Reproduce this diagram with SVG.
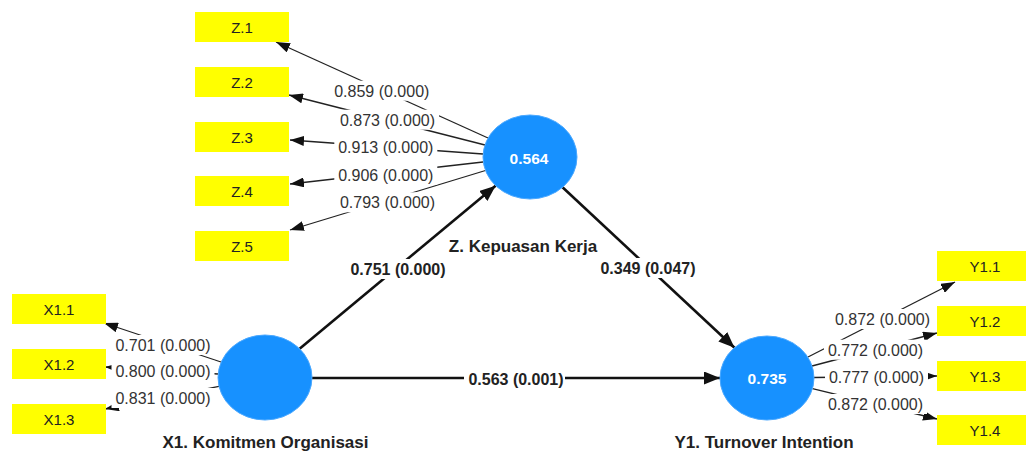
<svg xmlns="http://www.w3.org/2000/svg" width="1026" height="452" viewBox="0 0 1026 452">
<style>
.ind{fill:#ffff00}
.itxt{font-family:"Liberation Sans",Arial,sans-serif;font-size:15px;fill:#222;text-anchor:middle}
.lv{fill:#1791ff;stroke:#4aa8ff;stroke-width:1}
.lvtxt{font-family:"Liberation Sans",Arial,sans-serif;font-size:15.5px;font-weight:bold;fill:#fff;text-anchor:middle}
.name{font-family:"Liberation Sans",Arial,sans-serif;font-size:17px;font-weight:bold;fill:#222;text-anchor:middle}
.ld{stroke:#222;stroke-width:1.3;fill:none}
.pth{stroke:#111;stroke-width:2.6;fill:none}
.lbl{font-family:"Liberation Sans",Arial,sans-serif;font-size:16px;fill:#333;text-anchor:middle}
.blbl{font-family:"Liberation Sans",Arial,sans-serif;font-size:16px;font-weight:bold;fill:#222;text-anchor:middle}
.bg{fill:#fff}
</style>
<defs>
<marker id="a" markerUnits="userSpaceOnUse" viewBox="0 0 14 10" markerWidth="14" markerHeight="10" refX="14" refY="5" orient="auto"><path d="M0,0 L14,5 L0,10 z" fill="#111"/></marker>
<marker id="b" markerUnits="userSpaceOnUse" viewBox="0 0 16 13" markerWidth="16" markerHeight="13" refX="16" refY="6.5" orient="auto"><path d="M0,0 L16,6.5 L0,13 z" fill="#111"/></marker>
</defs>
<g id="connectors">
<line class="ld" x1="488" y1="138" x2="276" y2="42" marker-end="url(#a)"/>
<line class="ld" x1="485" y1="145" x2="289" y2="95" marker-end="url(#a)"/>
<line class="ld" x1="483" y1="154" x2="290" y2="140" marker-end="url(#a)"/>
<line class="ld" x1="483" y1="162" x2="290" y2="184" marker-end="url(#a)"/>
<line class="ld" x1="485.5" y1="170.5" x2="290" y2="230" marker-end="url(#a)"/>
<line class="ld" x1="221" y1="362" x2="104" y2="323" marker-end="url(#a)"/>
<line class="ld" x1="218" y1="374" x2="105" y2="367" marker-end="url(#a)"/>
<line class="ld" x1="219" y1="386.4" x2="105" y2="409" marker-end="url(#a)"/>
<line class="ld" x1="808" y1="357" x2="955" y2="282" marker-end="url(#a)"/>
<line class="ld" x1="812" y1="366" x2="937" y2="333" marker-end="url(#a)"/>
<line class="ld" x1="814" y1="377.5" x2="937" y2="376" marker-end="url(#a)"/>
<line class="ld" x1="812.5" y1="388.6" x2="937" y2="419" marker-end="url(#a)"/>
<line class="pth" x1="299.6" y1="348.7" x2="495.6" y2="185.7" marker-end="url(#b)"/>
<line class="pth" x1="562.5" y1="187.3" x2="734.5" y2="347.7" marker-end="url(#b)"/>
<line class="pth" x1="312" y1="378" x2="720" y2="378" marker-end="url(#b)"/>
<g id="labels">
<rect class="bg" x="330" y="80.7" width="103" height="20"/><text class="lbl" x="381.8" y="96.7">0.859 (0.000)</text>
<rect class="bg" x="336" y="109.7" width="103" height="20"/><text class="lbl" x="387.5" y="125.7">0.873 (0.000)</text>
<rect class="bg" x="334.3" y="137.3" width="103" height="20"/><text class="lbl" x="385.8" y="153.3">0.913 (0.000)</text>
<rect class="bg" x="334.3" y="164.7" width="103" height="20"/><text class="lbl" x="385.8" y="180.7">0.906 (0.000)</text>
<rect class="bg" x="336" y="192.3" width="103" height="20"/><text class="lbl" x="387.5" y="208.3">0.793 (0.000)</text>
<rect class="bg" x="111.5" y="335" width="103" height="20"/><text class="lbl" x="163" y="351">0.701 (0.000)</text>
<rect class="bg" x="111.5" y="360.7" width="103" height="20"/><text class="lbl" x="163" y="376.7">0.800 (0.000)</text>
<rect class="bg" x="111.5" y="388" width="103" height="20"/><text class="lbl" x="163" y="404">0.831 (0.000)</text>
<rect class="bg" x="831" y="309" width="103" height="20"/><text class="lbl" x="882.5" y="325">0.872 (0.000)</text>
<rect class="bg" x="824" y="339.7" width="103" height="20"/><text class="lbl" x="875.5" y="355.7">0.772 (0.000)</text>
<rect class="bg" x="825" y="367.3" width="103" height="20"/><text class="lbl" x="876.5" y="383.3">0.777 (0.000)</text>
<rect class="bg" x="824" y="394" width="103" height="20"/><text class="lbl" x="875.5" y="410">0.872 (0.000)</text>
<rect class="bg" x="345" y="259" width="107" height="20"/><text class="blbl" x="398" y="275">0.751 (0.000)</text>
<rect class="bg" x="595" y="258" width="107" height="20"/><text class="blbl" x="648" y="274">0.349 (0.047)</text>
<rect class="bg" x="464" y="369" width="101" height="20"/><text class="blbl" x="516" y="385">0.563 (0.001)</text>
</g>
</g>
<g id="Z1"><rect class="ind" x="195" y="12" width="94" height="30"/><text class="itxt" x="242" y="32.5">Z.1</text></g>
<g id="Z2"><rect class="ind" x="195" y="67" width="94" height="30"/><text class="itxt" x="242" y="87.5">Z.2</text></g>
<g id="Z3"><rect class="ind" x="195" y="122" width="94" height="30"/><text class="itxt" x="242" y="142.5">Z.3</text></g>
<g id="Z4"><rect class="ind" x="195" y="176" width="94" height="30"/><text class="itxt" x="242" y="196.5">Z.4</text></g>
<g id="Z5"><rect class="ind" x="195" y="231" width="94" height="30"/><text class="itxt" x="242" y="251.5">Z.5</text></g>
<g id="X11"><rect class="ind" x="12" y="294" width="94" height="30"/><text class="itxt" x="59" y="314.5">X1.1</text></g>
<g id="X12"><rect class="ind" x="12" y="349" width="94" height="30"/><text class="itxt" x="59" y="369.5">X1.2</text></g>
<g id="X13"><rect class="ind" x="12" y="404" width="94" height="30"/><text class="itxt" x="59" y="424.5">X1.3</text></g>
<g id="Y11"><rect class="ind" x="937" y="251" width="94" height="30"/><text class="itxt" x="985" y="271.5">Y1.1</text></g>
<g id="Y12"><rect class="ind" x="937" y="306" width="94" height="30"/><text class="itxt" x="985" y="326.5">Y1.2</text></g>
<g id="Y13"><rect class="ind" x="937" y="361" width="94" height="30"/><text class="itxt" x="985" y="381.5">Y1.3</text></g>
<g id="Y14"><rect class="ind" x="937" y="415" width="94" height="30"/><text class="itxt" x="985" y="435.5">Y1.4</text></g>
<g id="Z"><ellipse class="lv" cx="530" cy="157" rx="47" ry="42"/><text class="lvtxt" x="529" y="164">0.564</text><text class="name" x="523" y="251.5">Z. Kepuasan Kerja</text></g>
<g id="X1"><ellipse class="lv" cx="265" cy="377.5" rx="47" ry="42.5"/><text class="name" x="265.5" y="447.5">X1. Komitmen Organisasi</text></g>
<g id="Y1"><ellipse class="lv" cx="767" cy="378" rx="47" ry="42"/><text class="lvtxt" x="767" y="384">0.735</text><text class="name" x="764" y="447.5">Y1. Turnover Intention</text></g>
</svg>
